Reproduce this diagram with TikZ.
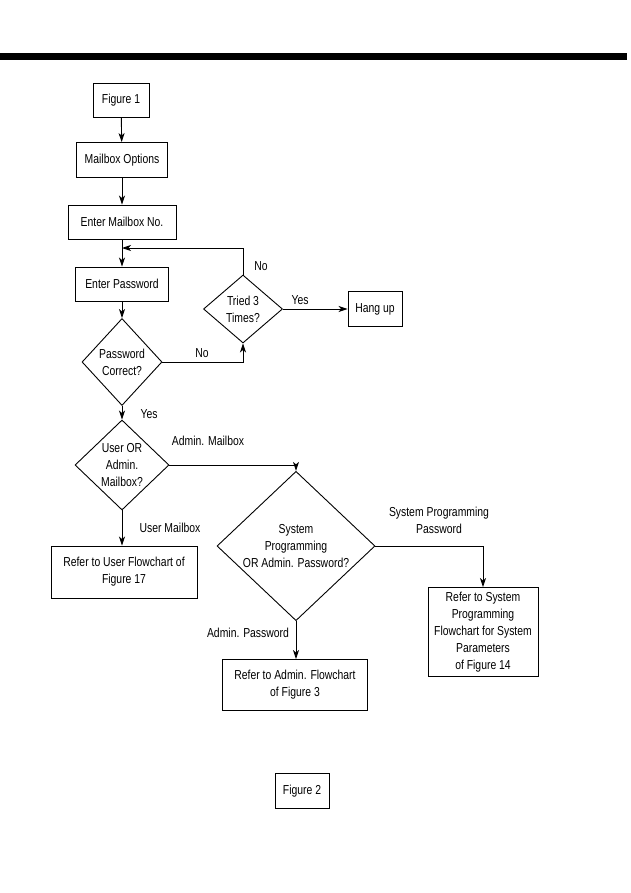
\documentclass[tikz,border=0pt]{standalone}
\usepackage{fontspec}
\setmainfont{Liberation Sans}[FakeStretch=0.8]
\usetikzlibrary{shapes.geometric,arrows.meta}

\tikzset{
  box/.style={draw, line width=0.9pt, align=center, inner sep=0pt},
  decision/.style={draw, diamond, line width=0.9pt, align=center, inner sep=0pt},
  flow/.style={-{Stealth[length=9pt,width=6pt,inset=2.5pt]}, line width=0.9pt},
  link/.style={line width=0.9pt}
}

\begin{document}
\begin{tikzpicture}[x=1pt, y=-1pt, font=\fontsize{13}{17}\selectfont]
  \useasboundingbox (0,0) rectangle (630,893);
  % Top bar
  \fill (0,53) rectangle (627,60);
  % Boxes
  \node[box, minimum width=56, minimum height=34] (fig1) at (121,100) {Figure 1};
  \node[box, minimum width=91, minimum height=35] (opts) at (122,160) {Mailbox Options};
  \node[box, minimum width=108, minimum height=34] (mbno) at (122,222) {Enter Mailbox No.};
  \node[box, minimum width=93, minimum height=34] (pass) at (122,284) {Enter Password};
  \node[box, minimum width=54, minimum height=35] (hang) at (375,309) {Hang up};
  \node[box, minimum width=146, minimum height=52] (user) at (124,572) {Refer to User Flowchart of\\Figure 17};
  \node[box, minimum width=145, minimum height=51] (admin) at (295,685) {Refer to Admin. Flowchart\\of Figure 3};
  \node[box, minimum width=110, minimum height=89] (sysprog) at (483,632) {Refer to System\\Programming\\Flowchart for System\\Parameters\\of Figure 14};
  \node[box, minimum width=54, minimum height=35] (fig2) at (302,791) {Figure 2};
  % Decisions
  \node[decision, minimum width=80, minimum height=87] (correct) at (122,362) {Password\\Correct?};
  \node[decision, minimum width=79, minimum height=68] (tried) at (243,309) {Tried 3\\Times?};
  \node[decision, minimum width=94, minimum height=90] (kind) at (122,465) {User OR\\Admin.\\Mailbox?};
  \node[decision, minimum width=158, minimum height=121] (which) at (296,546) {System\\Programming\\OR Admin. Password?};
  % Arrows
  \draw[flow] (fig1) -- (opts);
  \draw[flow] (opts) -- (mbno);
  \draw[flow] (mbno) -- (pass);
  \draw[flow] (pass) -- (correct);
  \coordinate (loop) at (122,248);
  \draw[flow] (tried.north) |- (loop);
  \draw[flow] (correct.east) -| (tried.south);
  \draw[flow] (tried.east) -- (hang);
  \draw[flow] (correct.south) -- (kind.north);
  \draw[flow] (kind.east) -| (which.north);
  \draw[flow] (kind.south) -- (kind.south |- user.north);
  \draw[flow] (which.south) -- (which.south |- admin.north);
  \draw[flow] (which.east) -| (sysprog.north);
  % Labels
  \node (no1) at (261,266) {No};
  \node (yes1) at (300,300) {Yes};
  \node (no2) at (202,353) {No};
  \node (yes2) at (149,414) {Yes};
  \node (amb) at (208,441) {Admin. Mailbox};
  \node (umb) at (170,528) {User Mailbox};
  \node (apw) at (248,633) {Admin. Password};
  \node[align=center] (spw) at (439,520) {System Programming\\Password};
\end{tikzpicture}
\end{document}
